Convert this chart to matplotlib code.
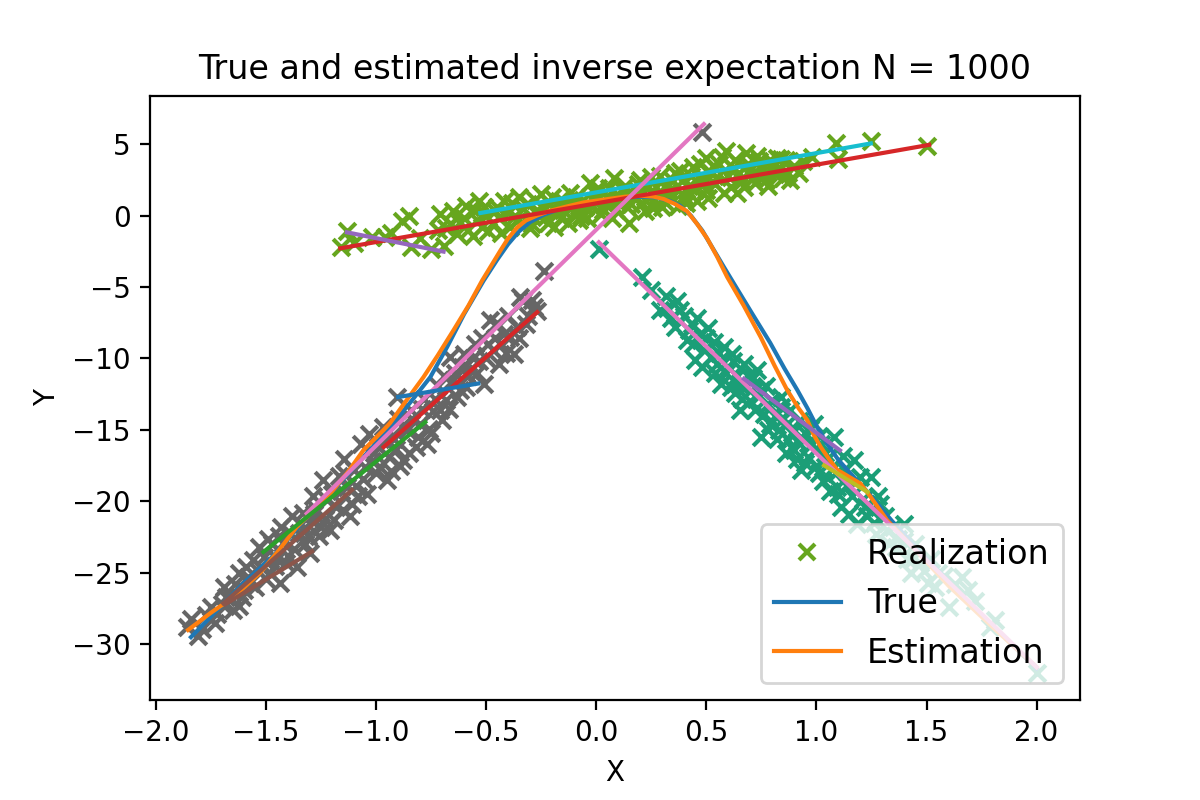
import matplotlib
matplotlib.use("Agg")
import matplotlib.pyplot as plt
from matplotlib.lines import Line2D

# --- realizations, one list pair per cluster ---
green_x = [-1.16, -1.13, -1.10, -1.02, -0.96, -0.93, -0.88, -0.85, -0.84, -0.80,
           -0.75, -0.72, -0.71, -0.69, -0.66, -0.63, -0.60, -0.58, -0.55, -0.53,
           -0.52, -0.50, -0.47, -0.45, -0.43, -0.40, -0.38, -0.36, -0.33, -0.30,
           -0.28, -0.26, -0.24, -0.22, -0.20, -0.18, -0.16, -0.14, -0.12, -0.10,
           -0.08, -0.06, -0.04, -0.03, -0.02, 0.00, 0.02, 0.04, 0.06, 0.08,
           0.09, 0.11, 0.13, 0.15, 0.16, 0.18, 0.20, 0.22, 0.24, 0.26,
           0.27, 0.29, 0.31, 0.33, 0.35, 0.37, 0.38, 0.40, 0.42, 0.44,
           0.46, 0.48, 0.50, 0.50, 0.52, 0.54, 0.56, 0.58, 0.59, 0.60,
           0.62, 0.64, 0.66, 0.68, 0.70, 0.72, 0.74, 0.76, 0.78, 0.80,
           0.82, 0.84, 0.85, 0.87, 0.90, 0.98, 1.09, 1.10, 1.25, 1.50,
           -0.68, -0.65, -0.62, -0.59, -0.56, -0.54, -0.51, -0.49, -0.46, -0.44,
           -0.42, -0.39, -0.37, -0.35, -0.32, -0.31, -0.29, -0.27, -0.25, -0.23,
           -0.21, -0.19, -0.17, -0.15, -0.13, -0.11, -0.09, -0.07, -0.05, -0.01,
           0.01, 0.03, 0.05, 0.07, 0.10, 0.12, 0.14, 0.17, 0.19, 0.21,
           0.23, 0.25, 0.28, 0.30, 0.32, 0.34, 0.36, 0.39, 0.41, 0.43,
           0.45, 0.47, 0.49, 0.51, 0.53, 0.55, 0.57, 0.61, 0.63, 0.65,
           0.67, 0.69, 0.71, 0.73, 0.75, 0.77, 0.79, 0.81, 0.83, 0.86,
           0.88, 0.92, 0.94]
green_y = [-2.2, -1.1, -1.9, -1.5, -1.5, -1.2, -0.4, 0.0, -2.2, -1.6,
           -2.35, -1.0, 0.1, -2.1, -0.6, -1.3, -0.2, -1.0, 0.4, 1.0,
           -0.8, 0.0, -0.5, 0.6, -1.2, 0.2, 0.9, -0.4, 0.5, -0.9,
           1.1, 0.0, 0.6, -0.5, 1.3, 0.3, -0.2, 0.9, 1.6, 0.2,
           -0.3, 1.1, -0.2, 2.3, 0.6, 1.5, 0.1, 0.9, 1.9, 2.6,
           0.4, 1.3, 2.1, -0.5, 0.8, 1.7, 2.5, 0.3, 1.2, 0.5,
           2.0, 2.8, 1.0, 1.7, 2.4, 0.7, 3.1, 1.4, 2.1, 3.4,
           1.0, 2.7, 4.0, 1.8, 3.0, 2.2, 3.6, 1.6, 4.5, 2.8,
           3.3, 1.6, 2.4, 4.4, 3.2, 2.3, 3.8, 2.8, 2.1, 3.4,
           4.0, 3.95, 2.6, 3.0, 3.5, 4.1, 5.1, 3.95, 5.2, 4.9,
           -0.9, 0.3, -0.5, 0.7, -1.4, -0.3, 0.6, -1.1, 0.3, -0.2,
           1.0, -0.8, 0.0, 1.3, -0.3, 0.8, -0.6, 0.4, 1.5, -0.1,
           0.8, -0.8, 1.0, 0.4, -0.5, 0.7, 1.3, 0.0, 0.6, 1.0,
           1.9, 0.4, 1.4, -0.2, 0.9, 1.8, 0.6, 1.2, 2.2, 0.9,
           1.9, 2.7, 1.4, 0.6, 2.2, 1.2, 3.0, 2.4, 0.9, 2.8,
           1.8, 3.6, 2.3, 1.2, 3.5, 2.7, 4.1, 2.0, 3.9, 3.0,
           2.0, 3.6, 2.6, 4.2, 3.3, 2.5, 3.9, 2.9, 3.3, 3.9,
           2.5, 3.0, 3.8]

gray_x = [-1.86, -1.81, -1.77, -1.73, -1.70, -1.68, -1.65, -1.62, -1.62, -1.60,
          -1.58, -1.56, -1.55, -1.53, -1.52, -1.50, -1.48, -1.47, -1.45, -1.435,
          -1.43, -1.42, -1.40, -1.38, -1.36, -1.35, -1.33, -1.32, -1.30, -1.29,
          -1.284, -1.27, -1.26, -1.24, -1.23, -1.21, -1.20, -1.18, -1.17, -1.15,
          -1.147, -1.13, -1.12, -1.10, -1.08, -1.07, -1.06, -1.04, -1.03, -1.02,
          -1.00, -0.99, -0.97, -0.95, -0.94, -0.92, -0.905, -0.90, -0.89, -0.875,
          -0.86, -0.84, -0.82, -0.80, -0.78, -0.77, -0.75, -0.74, -0.72, -0.70,
          -0.68, -0.662, -0.65, -0.632, -0.61, -0.59, -0.571, -0.549, -0.53, -0.51,
          -0.49, -0.48, -0.46, -0.44, -0.42, -0.40, -0.375, -0.36, -0.344, -0.33,
          -0.31, -0.284, -0.27, -0.238, 0.482,
          -1.84, -1.79, -1.75, -1.72, -1.69, -1.66, -1.64, -1.61, -1.59, -1.57,
          -1.54, -1.51, -1.49, -1.46, -1.44, -1.41, -1.39, -1.37, -1.34, -1.31,
          -1.28, -1.25, -1.22, -1.19, -1.16, -1.14, -1.11, -1.09, -1.05, -1.01,
          -0.98, -0.96, -0.93, -0.91, -0.88, -0.85, -0.83, -0.81, -0.79, -0.76,
          -0.73, -0.71, -0.69, -0.67, -0.64, -0.62, -0.60, -0.58, -0.56, -0.54,
          -0.52, -0.50, -0.47, -0.45, -0.43, -0.41, -0.39, -0.35, -0.32, -0.29]
gray_y = [-28.8, -29.4, -27.96, -28.5, -27.2, -26.7, -27.6, -27.3, -25.0, -26.2,
          -25.3, -24.1, -26.0, -23.2, -24.6, -25.4, -25.0, -23.0, -24.0, -25.7,
          -21.8, -22.9, -23.8, -21.0, -24.6, -22.2, -20.8, -23.0, -23.6, -21.4,
          -19.6, -20.5, -22.4, -18.5, -21.2, -22.0, -19.5, -20.4, -18.2, -20.6,
          -17.0, -19.0, -21.0, -17.8, -19.6, -16.0, -18.4, -19.5, -15.3, -17.2,
          -18.0, -16.2, -14.8, -18.5, -16.9, -15.6, -12.7, -14.2, -17.5, -17.1,
          -15.0, -13.6, -16.2, -14.6, -12.8, -16.0, -15.2, -13.7, -11.9, -14.3,
          -12.9, -9.9, -11.5, -12.7, -10.6, -12.0, -10.8, -8.97, -10.2, -11.8,
          -9.0, -7.34, -8.6, -10.4, -8.27, -7.0, -9.67, -7.8, -5.7, -5.95,
          -7.0, -6.4, -6.65, -3.85, 5.88,
          -28.2, -28.9, -27.4, -27.9, -26.0, -26.8, -25.8, -26.7, -24.6, -25.7,
          -24.8, -23.9, -22.6, -24.5, -22.4, -24.3, -22.2, -23.3, -21.6, -22.4,
          -20.9, -21.8, -19.9, -21.3, -19.3, -18.1, -20.2, -18.9, -17.6, -16.6,
          -17.6, -15.8, -17.9, -16.3, -14.7, -16.6, -14.3, -15.5, -13.5, -14.9,
          -12.8, -13.6, -11.2, -13.5, -11.0, -12.2, -9.7, -11.2, -10.0, -11.0,
          -8.6, -10.0, -9.4, -7.5, -9.0, -9.6, -8.5, -8.6, -7.6, -5.9]

teal_x = [0.012, 0.209, 0.29, 0.315, 0.338, 0.367, 0.40, 0.413, 0.436, 0.45,
          0.47, 0.49, 0.51, 0.535, 0.55, 0.565, 0.58, 0.60, 0.617, 0.63,
          0.64, 0.655, 0.67, 0.68, 0.70, 0.71, 0.73, 0.74, 0.747, 0.76,
          0.77, 0.79, 0.80, 0.82, 0.838, 0.85, 0.86, 0.88, 0.89, 0.90,
          0.92, 0.93, 0.94, 0.96, 0.97, 0.99, 1.00, 1.02, 1.03, 1.05,
          1.06, 1.08, 1.09, 1.095, 1.11, 1.12, 1.14, 1.15, 1.17, 1.185,
          1.20, 1.21, 1.23, 1.247, 1.25, 1.27, 1.29, 1.31, 1.33, 1.35,
          1.37, 1.398, 1.41, 1.43, 1.45, 1.47, 1.505, 1.52, 1.55, 1.60,
          1.63, 1.66, 1.69, 1.72, 1.79, 1.81, 2.00,
          0.25, 0.32, 0.36, 0.38, 0.42, 0.44, 0.46, 0.48, 0.50, 0.52,
          0.54, 0.56, 0.59, 0.61, 0.62, 0.65, 0.66, 0.69, 0.72, 0.75,
          0.78, 0.78, 0.81, 0.83, 0.84, 0.87, 0.87, 0.91, 0.91, 0.95,
          0.95, 0.98, 1.01, 1.01, 1.04, 1.07, 1.10, 1.13, 1.16, 1.18,
          1.22, 1.26, 1.28, 1.32, 1.36, 1.40, 1.44, 1.49, 1.54, 1.58]
teal_y = [-2.33, -4.32, -6.6, -5.6, -7.2, -5.95, -7.0, -8.74, -7.58, -10.1,
          -8.3, -9.4, -7.9, -8.86, -10.4, -11.8, -9.2, -10.6, -9.67, -12.4,
          -11.2, -13.6, -10.4, -12.0, -13.0, -11.4, -10.8, -12.6, -15.5, -13.9,
          -11.9, -14.6, -13.0, -15.6, -12.7, -14.2, -16.6, -13.6, -15.2, -16.4,
          -14.4, -17.8, -15.6, -16.9, -14.9, -14.6, -17.5, -16.0, -18.6, -17.0,
          -19.3, -15.5, -18.0, -19.0, -20.4, -16.8, -18.9, -20.9, -17.1, -21.55,
          -18.3, -19.8, -21.0, -20.6, -18.3, -22.3, -20.2, -21.0, -23.0, -21.8,
          -22.6, -21.55, -24.0, -25.0, -23.0, -24.3, -25.7, -24.0, -25.0, -27.4,
          -25.8, -25.3, -26.2, -27.0, -28.8, -28.3, -32.0,
          -5.2, -6.5, -7.8, -6.6, -8.0, -9.0, -7.2, -10.6, -8.6, -9.9,
          -11.0, -9.6, -11.0, -12.0, -10.2, -11.8, -12.8, -11.2, -13.6, -12.2,
          -15.0, -13.2, -14.0, -15.0, -13.4, -15.7, -14.5, -15.8, -17.0, -15.2,
          -17.3, -16.0, -18.0, -15.4, -16.6, -17.7, -19.5, -17.8, -19.6, -18.6,
          -20.4, -21.5, -19.6, -22.0, -23.2, -22.8, -24.0, -24.9, -26.0, -25.2]

# --- true and estimated inverse expectation curves ---
true_x = [-1.84, -1.72, -1.60, -1.465, -1.314, -1.17, -1.05, -0.935, -0.84, -0.753,
          -0.677, -0.60, -0.511, -0.45, -0.40, -0.35, -0.30, -0.24, -0.17, -0.08,
          0.00, 0.10, 0.20, 0.27, 0.33, 0.38, 0.43, 0.482, 0.53, 0.58,
          0.635, 0.71, 0.79, 0.855, 0.913, 0.96, 1.00, 1.05, 1.10, 1.156,
          1.232, 1.353, 1.50, 1.70, 2.00]
true_y = [-29.5, -27.6, -25.7, -23.8, -21.1, -18.8, -16.8, -14.8, -13.0, -11.3,
          -9.2, -6.9, -4.55, -3.1, -2.0, -1.1, -0.45, 0.05, 0.45, 0.8,
          1.0, 1.22, 1.33, 1.28, 1.05, 0.7, 0.0, -1.05, -2.3, -3.6,
          -5.0, -6.9, -8.9, -10.7, -12.2, -13.5, -14.7, -16.0, -17.1, -18.06,
          -19.34, -21.55, -24.0, -27.2, -31.7]
est_x = [-1.853, -1.75, -1.647, -1.526, -1.44, -1.36, -1.28, -1.208, -1.13, -1.056,
         -0.965, -0.935, -0.86, -0.784, -0.72, -0.647, -0.58, -0.518, -0.435, -0.40,
         -0.36, -0.32, -0.27, -0.208, -0.13, -0.057, 0.05, 0.13, 0.201, 0.26,
         0.307, 0.36, 0.413, 0.459, 0.504, 0.55, 0.595, 0.67, 0.747, 0.81,
         0.867, 0.92, 0.958, 0.99, 1.02, 1.06, 1.095, 1.15, 1.20, 1.247,
         1.32, 1.45, 1.60, 1.80, 2.00]
est_y = [-29.0, -27.8, -26.7, -25.0, -23.4, -21.8, -20.6, -19.45, -18.0, -16.4,
         -15.0, -14.5, -12.9, -11.3, -9.8, -8.0, -6.3, -4.55, -2.45, -1.6,
         -0.85, -0.35, 0.0, 0.34, 0.65, 0.92, 1.15, 1.32, 1.39, 1.33,
         1.16, 0.8, 0.3, -0.6, -1.6, -2.9, -4.3, -6.3, -8.5, -10.5,
         -12.2, -13.5, -14.3, -15.4, -16.2, -17.1, -17.8, -18.3, -18.75, -19.7,
         -21.3, -23.4, -25.9, -28.8, -31.6]

# --- local linear fits: start/end points and cycle colour ---
seg_x0 = [-1.162, -0.526, -1.132, -1.314, 0.012, 0.671, 1.035, -1.511, -0.965, -1.693, -1.685, -0.899]
seg_y0 = [-2.29, 0.18, -1.17, -20.85, -1.87, -11.42, -17.48, -23.54, -16.2, -27.14, -27.2, -12.7]
seg_x1 = [1.512, 1.247, -0.693, 0.489, 2.0, 1.107, 1.232, -0.776, -0.268, -1.109, -1.29, -0.535]
seg_y1 = [4.95, 5.05, -2.52, 6.4, -31.6, -16.43, -19.34, -14.45, -6.76, -19.2, -23.5, -11.75]
seg_colors = ["C3", "C9", "C4", "C6", "C6", "C4", "C8", "C2", "C3", "C5", "C5", "C0"]

fig, ax = plt.subplots(figsize=(6, 4), dpi=200)
fig.subplots_adjust(left=0.125, right=0.9, top=0.88, bottom=0.125)

ax.scatter(green_x, green_y, marker="x", color="#66a61e")
ax.scatter(gray_x, gray_y, marker="x", color="#666666")
ax.scatter(teal_x, teal_y, marker="x", color="#1b9e77")

ax.plot(true_x, true_y, color="C0")
ax.plot(est_x, est_y, color="C1")
for x0, y0, x1, y1, c in zip(seg_x0, seg_y0, seg_x1, seg_y1, seg_colors):
    ax.plot([x0, x1], [y0, y1], color=c)

ax.set_xlim(-2.026, 2.197)
ax.set_ylim(-33.9, 8.37)
ax.set_xlabel("X")
ax.set_ylabel("Y")
ax.set_title("True and estimated inverse expectation N = 1000")

handles = [
    Line2D([0], [0], marker="x", color="#66a61e", linestyle="none", markersize=6,
           markeredgewidth=1.5, label="Realization"),
    Line2D([0], [0], color="C0", label="True"),
    Line2D([0], [0], color="C1", label="Estimation"),
]
ax.legend(handles=handles, loc="lower right", fontsize=12)

fig.savefig("out.png", dpi=200)
